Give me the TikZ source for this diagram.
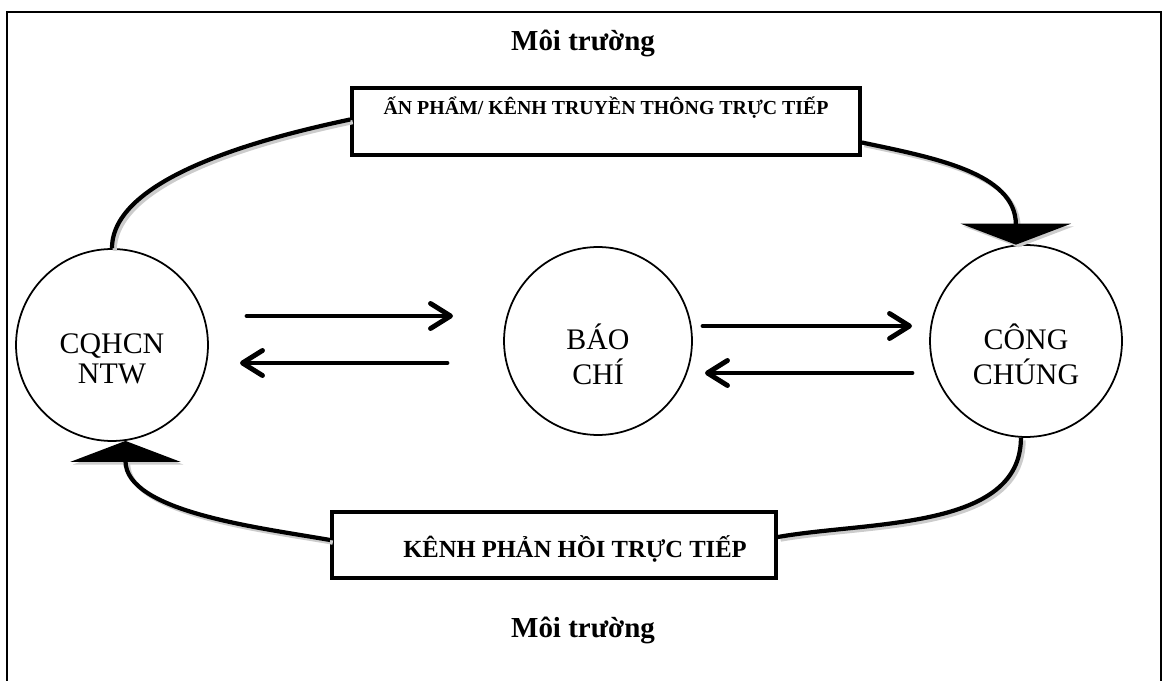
\documentclass[tikz,border=0pt]{standalone}
\usepackage{fontspec}
\setmainfont{Liberation Serif}
\usetikzlibrary{arrows.meta}
\newcommand\partytext[1]{\raisebox{-0.5cm}[0pt][0pt]{\begin{tabular}{@{}c@{}}#1\end{tabular}}}
\begin{document}
\begin{tikzpicture}[x=0.02cm, y=0.02cm]
\tikzset{party/.style={draw, circle, line width=1pt, minimum size=3.84cm, inner sep=0pt, font=\fontsize{17}{17.5}\selectfont},
         channel/.style={draw, rectangle, line width=2.2pt, inner sep=0pt, anchor=base},
         heading/.style={font=\fontsize{16.5}{19}\selectfont\bfseries},
         flow/.style={line width=2.8pt, line cap=round, -{Straight Barb[length=0.4cm, width=0.5cm, round]}},
         cycleline/.style={line width=2.4pt, preaction={draw=black!20, line width=2.4pt, transform canvas={xshift=1.5pt, yshift=-1.5pt}}},
         cyclehead/.style={-{Triangle[length=0.42cm, width=2.2cm]}}}
\useasboundingbox (0,0) rectangle (1166,680);
\draw[line width=1.6pt] (7,-5) -- (7,668) -- (1161,668) -- (1161,-5);

\node[heading] (envtop) at (583,637){Môi trường};
\node[heading] (envbot) at (583,50){Môi trường};

\node[party] (gov) at (112,335){\partytext{CQHCN\\NTW}};
\node[party, minimum size=3.76cm] (press) at (598,339){\partytext{BÁO\\CHÍ}};
\node[party] (pub) at (1026,339){\partytext{CÔNG\\CHÚNG}};

\node[channel, minimum width=10.16cm, text height=0.54cm, text depth=0.8cm, font=\fontsize{11.3}{13}\selectfont\bfseries] (chan) at (606,565){ẤN PHẨM/ KÊNH TRUYỀN THÔNG TRỰC TIẾP};
\node[channel, minimum width=8.88cm, text height=0.9cm, text depth=0.42cm, font=\fontsize{14}{16}\selectfont\bfseries] (fb) at (554,123){\hspace*{0.84cm}KÊNH PHẢN HỒI TRỰC TIẾP};

\coordinate (g1) at (247,364);
\coordinate (p1) at (453,364);
\coordinate (p2) at (447,317);
\coordinate (g2) at (240,317);
\coordinate (p3) at (703,354);
\coordinate (u3) at (912,354);
\coordinate (u4) at (912,307);
\coordinate (p4) at (705,307);

\draw[flow] (g1) -- (p1);
\draw[flow] (p2) -- (g2);
\draw[flow] (p3) -- (u3);
\draw[flow] (u4) -- (p4);

\draw[cycleline] (gov.north) to[out=90, in=192, looseness=0.7] ([yshift=0.04cm]chan.west);
\draw[cycleline, cyclehead] ([yshift=-0.42cm]chan.east) to[out=-12, in=90] (pub.96);
\draw[cycleline] (pub.-93) to[out=-90, in=10, looseness=0.9] ([yshift=0.16cm]fb.east);
\draw[cycleline, cyclehead] ([yshift=0.1cm]fb.west) to[out=170, in=-90, looseness=0.8] (gov.-82);
\end{tikzpicture}
\end{document}
